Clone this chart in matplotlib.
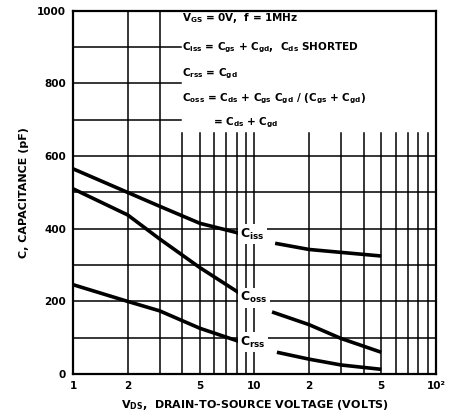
import matplotlib
matplotlib.use("Agg")
import matplotlib.pyplot as plt
import numpy as np

plt.rcParams['font.family'] = ['DejaVu Sans']
plt.rcParams['mathtext.default'] = 'regular'

# ---- data ----
ciss_left_x = [1, 2, 3, 5, 8.2]
ciss_left_y = [565, 500, 462, 415, 388]
ciss_right_x = [13, 20, 30, 50]
ciss_right_y = [360, 343, 335, 325]

coss_left_x = [1, 2, 3, 5, 8.2]
coss_left_y = [510, 438, 372, 293, 224]
coss_right_x = [12.5, 20, 30, 50]
coss_right_y = [171, 136, 98, 60]

crss_left_x = [1, 2, 3, 5, 8.2]
crss_left_y = [246, 200, 174, 126, 90]
crss_right_x = [13.3, 20, 30, 50]
crss_right_y = [60, 41, 25, 13]

xtick_vals = [1, 2, 5, 10, 20, 50, 100]
xtick_labels = ['1', '2', '5', '10', '2', '5', '10²']
ytick_vals = [0, 200, 400, 600, 800, 1000]

fig = plt.figure(figsize=(4.54, 4.17), dpi=100)
ax = fig.add_axes([0.161, 0.103, 0.799, 0.871])
ax.set_xscale('log')
ax.set_xlim(1, 100)
ax.set_ylim(0, 1000)

lw_grid = 1.1
gc = 'black'
# horizontal grid lines
for yv in range(100, 1000, 100):
    if yv >= 700:
        ax.plot([1, 3.95], [yv, yv], color=gc, lw=lw_grid, zorder=1)
    else:
        ax.plot([1, 100], [yv, yv], color=gc, lw=lw_grid, zorder=1)
# vertical grid lines
decade_minors = [2, 3, 4, 5, 6, 7, 8, 9, 10, 20, 30, 40, 50, 60, 70, 80, 90]
for xv in decade_minors:
    top = 1000 if xv in (2, 3) else 665
    ax.plot([xv, xv], [0, top], color=gc, lw=lw_grid, zorder=1)

# curves
lw_c = 2.6
for xs, ys in [(ciss_left_x, ciss_left_y), (ciss_right_x, ciss_right_y),
               (coss_left_x, coss_left_y), (coss_right_x, coss_right_y),
               (crss_left_x, crss_left_y), (crss_right_x, crss_right_y)]:
    ax.plot(xs, ys, color='black', lw=lw_c, solid_capstyle='butt', zorder=3)

# curve labels
lab_kw = dict(fontsize=9, fontweight='bold', ha='left', va='center', zorder=4,
              bbox=dict(boxstyle='square,pad=0.2', fc='white', ec='none'))
ax.text(8.35, 385, r'C$_{iss}$', **lab_kw)
ax.text(8.35, 210, r'C$_{oss}$', **lab_kw)
ax.text(8.35, 88, r'C$_{rss}$', **lab_kw)

# annotation text block
tk = dict(fontsize=7.5, fontweight='bold', ha='left', va='center',
          transform=ax.transData, zorder=4)
ax.text(4.0, 980, r'V$_{GS}$ = 0V,  f = 1MHz', **tk)
ax.text(4.0, 897, r'C$_{iss}$ = C$_{gs}$ + C$_{gd}$,  C$_{ds}$ SHORTED', **tk)
ax.text(4.0, 827, r'C$_{rss}$ = C$_{gd}$', **tk)
ax.text(4.0, 758, r'C$_{oss}$ = C$_{ds}$ + C$_{gs}$ C$_{gd}$ / (C$_{gs}$ + C$_{gd}$)', **tk)
ax.text(5.9, 692, r'= C$_{ds}$ + C$_{gd}$', **tk)

ax.set_xticks(xtick_vals)
ax.set_xticklabels(xtick_labels)
ax.xaxis.set_minor_locator(matplotlib.ticker.NullLocator())
ax.set_yticks(ytick_vals)
ax.tick_params(length=0, labelsize=7.5, pad=5)
for lab in ax.get_xticklabels() + ax.get_yticklabels():
    lab.set_fontweight('bold')

for s in ax.spines.values():
    s.set_linewidth(1.6)

ax.set_ylabel('C, CAPACITANCE (pF)', fontsize=8, fontweight='bold', labelpad=6)
ax.set_xlabel(r'V$_{DS}$,  DRAIN-TO-SOURCE VOLTAGE (VOLTS)', fontsize=8,
              fontweight='bold', labelpad=5)

fig.savefig('out.png', dpi=100)
